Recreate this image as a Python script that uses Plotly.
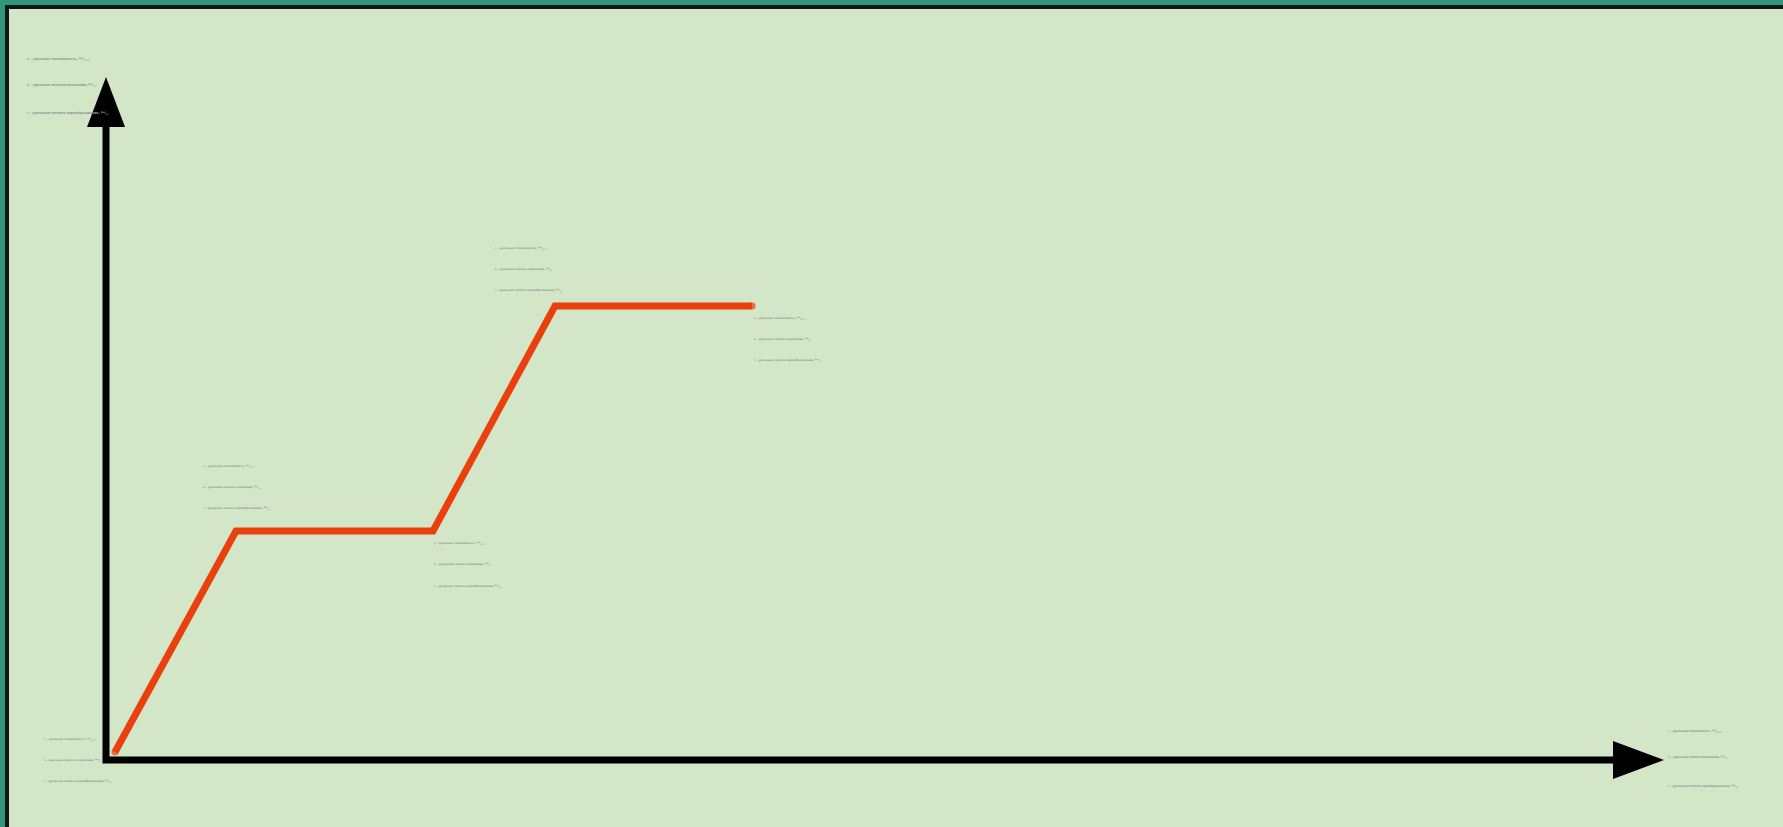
import plotly.graph_objects as go

# ---- data (schematic heating curve: time vs temperature, arbitrary units) ----
time = [9, 130, 327, 449, 646]
temp = [8, 229, 229, 454, 454]

label_lines = [
    "с – удельная теплоёмкость, <sup>Дж</sup>/<sub>кг°С</sub>",
    "λ – удельная теплота плавления, <sup>Дж</sup>/<sub>кг</sub>",
    "r – удельная теплота парообразования, <sup>Дж</sup>/<sub>кг</sub>",
]

# ---- layout geometry (pixels) ----
W, H = 1783, 827
OX, OY = 106, 760          # origin pixel of the axes

def px_x(p):
    return p - OX

def px_y(p):
    return OY - p

fig = go.Figure()

end_sizes = [7 if i in (0, len(time) - 1) else 0 for i in range(len(time))]
fig.add_trace(go.Scatter(
    x=time, y=temp, mode="lines+markers",
    line=dict(color="#ea400e", width=7),
    marker=dict(color="#ea400e", size=end_sizes, line=dict(width=0)),
    hoverinfo="skip", showlegend=False,
))

shapes = []
# background frame
shapes.append(dict(type="rect", xref="paper", yref="paper", layer="below",
                   x0=5 / W, x1=1.01, y0=-0.01, y1=1 - 5 / H,
                   fillcolor="#0b1a14", line=dict(width=0)))
shapes.append(dict(type="rect", xref="paper", yref="paper", layer="below",
                   x0=9 / W, x1=1.01, y0=-0.01, y1=1 - 9 / H,
                   fillcolor="#d3e6c8", line=dict(width=0)))

# axes (single path so the corner is joined)
shapes.append(dict(type="path", xref="x", yref="y", layer="above",
                   path=f"M 0 {px_y(127)} L 0 0 L {px_x(1613)} 0",
                   line=dict(color="black", width=7)))
# arrow heads
shapes.append(dict(type="path", xref="x", yref="y", layer="above",
                   path=f"M {px_x(87)} {px_y(127)} L {px_x(106)} {px_y(77)} L {px_x(125)} {px_y(127)} Z",
                   fillcolor="black", line=dict(width=0)))
shapes.append(dict(type="path", xref="x", yref="y", layer="above",
                   path=f"M {px_x(1613)} {px_y(741)} L {px_x(1664)} {px_y(760)} L {px_x(1613)} {px_y(779)} Z",
                   fillcolor="black", line=dict(width=0)))

# label blocks: (left x px, [y px of each line], font size)
blocks = [
    (25, [59, 85, 113], 3.5),
    (201, [466, 487, 508], 2.9),
    (432, [543, 564, 586], 2.9),
    (493, [248, 269, 290], 2.9),
    (752, [318, 339, 360], 2.9),
    (42, [739, 760, 781], 2.9),
    (1666, [731, 757, 786], 3.0),
]

annotations = []
for bx, ys, fs in blocks:
    for txt, by in zip(label_lines, ys):
        annotations.append(dict(
            x=px_x(bx), y=px_y(by), xref="x", yref="y",
            text=txt, showarrow=False, xanchor="left", yanchor="middle",
            font=dict(family="DejaVu Sans Condensed, Liberation Sans Narrow, Liberation Sans, sans-serif",
                      size=fs, color="#8f9b8c", weight="bold"),
        ))

fig.update_layout(
    width=W, height=H,
    margin=dict(l=0, r=0, t=0, b=0),
    paper_bgcolor="#33957a",
    plot_bgcolor="rgba(0,0,0,0)",
    xaxis=dict(range=[-OX, W - OX], visible=False, fixedrange=True),
    yaxis=dict(range=[-(H - OY), OY], visible=False, fixedrange=True),
    shapes=shapes,
    annotations=annotations,
    showlegend=False,
)

fig.write_html(
    "out.html",
    config={"displayModeBar": False},
    post_script="document.body.style.margin='0';document.body.style.overflow='hidden';"
                "document.body.style.background='#33957a';",
)
